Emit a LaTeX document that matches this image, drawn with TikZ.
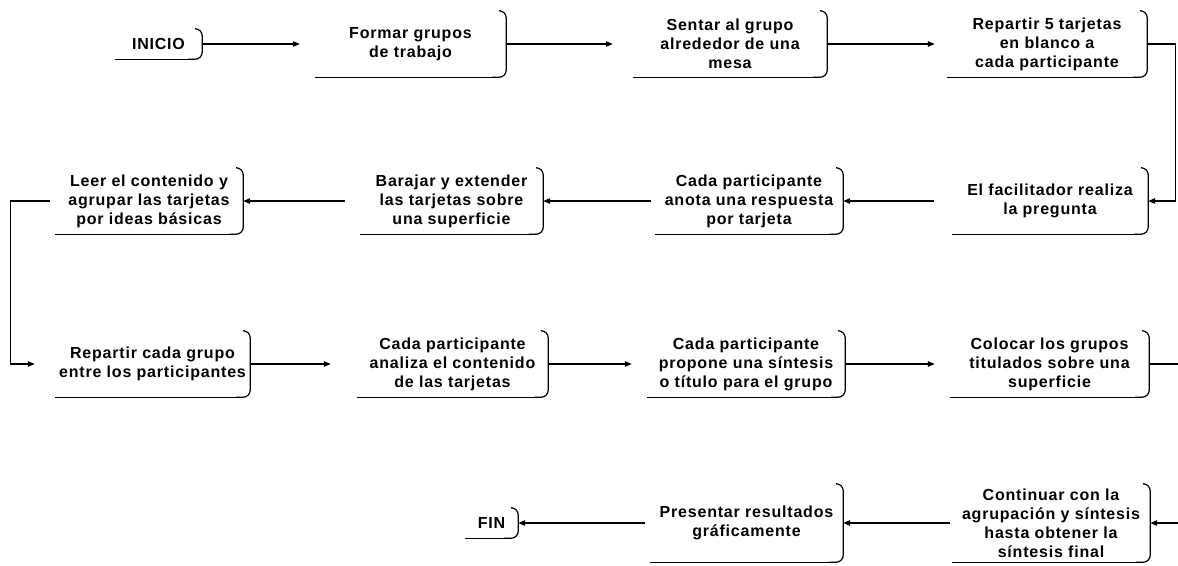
\documentclass[tikz,border=0pt]{standalone}
\usepackage{fontspec}
\setmainfont{Liberation Sans}[LetterSpace=5]
\usetikzlibrary{arrows.meta}
\tikzset{
  stepbox/.style={inner sep=0pt, align=center, font=\fontsize{16}{19}\selectfont\bfseries},
  arr/.style={line width=1.2pt, -{Triangle[length=7pt,width=5.5pt]}},
  redge/.style={line width=1.2pt, rounded corners=7pt},
  bedge/.style={line width=0.8pt},
}
\newcommand\frameit[1]{%
  \draw[redge] ([xshift=-6pt]#1.north east) -- (#1.north east) -- (#1.south east) -- ([xshift=-14pt]#1.south east);
  \draw[bedge] ([xshift=-14pt]#1.south east) -- (#1.south west);}
\begin{document}
\begin{tikzpicture}[x=1pt,y=-1pt]
\useasboundingbox[fill=white] (0,0) rectangle (1178,565);
% row 1
\node[stepbox, minimum width=87pt, minimum height=30pt] (ini) at (158.5,44) {INICIO};
\node[stepbox, minimum width=191pt, minimum height=66pt] (formar) at (410.5,44) {Formar grupos\\de trabajo};
\node[stepbox, minimum width=194pt, minimum height=66pt] (sentar) at (730,44) {Sentar al grupo\\alrededor de una\\mesa};
\node[stepbox, minimum width=200pt, minimum height=66pt] (rep5) at (1047,44) {Repartir 5 tarjetas\\en blanco a\\cada participante};
% row 2
\node[stepbox, minimum width=196pt, minimum height=66pt] (fac) at (1050,201) {El facilitador realiza\\la pregunta};
\node[stepbox, minimum width=188pt, minimum height=66pt] (anota) at (749,201) {Cada participante\\anota una respuesta\\por tarjeta};
\node[stepbox, minimum width=183pt, minimum height=66pt] (baraj) at (451.5,201) {Barajar y extender\\las tarjetas sobre\\una superficie};
\node[stepbox, minimum width=188pt, minimum height=66pt] (leer) at (149,201) {Leer el contenido y\\agrupar las tarjetas\\por ideas básicas};
% row 3
\node[stepbox, minimum width=195pt, minimum height=66pt] (repg) at (152.5,364) {Repartir cada grupo\\entre los participantes};
\node[stepbox, minimum width=191pt, minimum height=66pt] (anal) at (452.5,364) {Cada participante\\analiza el contenido\\de las tarjetas};
\node[stepbox, minimum width=198pt, minimum height=66pt] (prop) at (746,364) {Cada participante\\propone una síntesis\\o título para el grupo};
\node[stepbox, minimum width=199pt, minimum height=66pt] (colo) at (1049.5,364) {Colocar los grupos\\titulados sobre una\\superficie};
% row 4
\node[stepbox, minimum width=198pt, minimum height=78pt] (cont) at (1051,523) {Continuar con la\\agrupación y síntesis\\hasta obtener la\\síntesis final};
\node[stepbox, minimum width=193pt, minimum height=78pt] (pres) at (746.5,523) {Presentar resultados\\gráficamente};
\node[stepbox, minimum width=53pt, minimum height=30pt] (fin) at (491.5,523) {FIN};
% frames
\foreach \n in {ini,formar,sentar,rep5,fac,anota,baraj,leer,repg,anal,prop,colo,cont,pres,fin}{\frameit{\n}}
% connectors
\draw[arr] (ini.east) -- ([xshift=-15pt]formar.west);
\draw[arr] (formar.east) -- ([xshift=-20pt]sentar.west);
\draw[arr] (sentar.east) -- ([xshift=-12pt]rep5.west);
\draw[arr] (rep5.east) -- ++(28,0) |- (fac.east);
\draw[arr] ([xshift=-18pt]fac.west) -- (anota.east);
\draw[arr] ([xshift=-4pt]anota.west) -- (baraj.east);
\draw[arr] ([xshift=-15pt]baraj.west) -- (leer.east);
\draw[arr] ([xshift=-5pt]leer.west) -- ++(-39,0) |- ([xshift=-20pt]repg.west);
\draw[arr] (repg.east) -- ([xshift=-26pt]anal.west);
\draw[arr] (anal.east) -- ([xshift=-15pt]prop.west);
\draw[arr] (prop.east) -- ([xshift=-15pt]colo.west);
\draw[arr] (colo.east) -- ++(36,0) |- (cont.east);
\draw[arr] ([xshift=-2pt]cont.west) -- (pres.east);
\draw[arr] ([xshift=-5pt]pres.west) -- (fin.east);
\end{tikzpicture}
\end{document}
